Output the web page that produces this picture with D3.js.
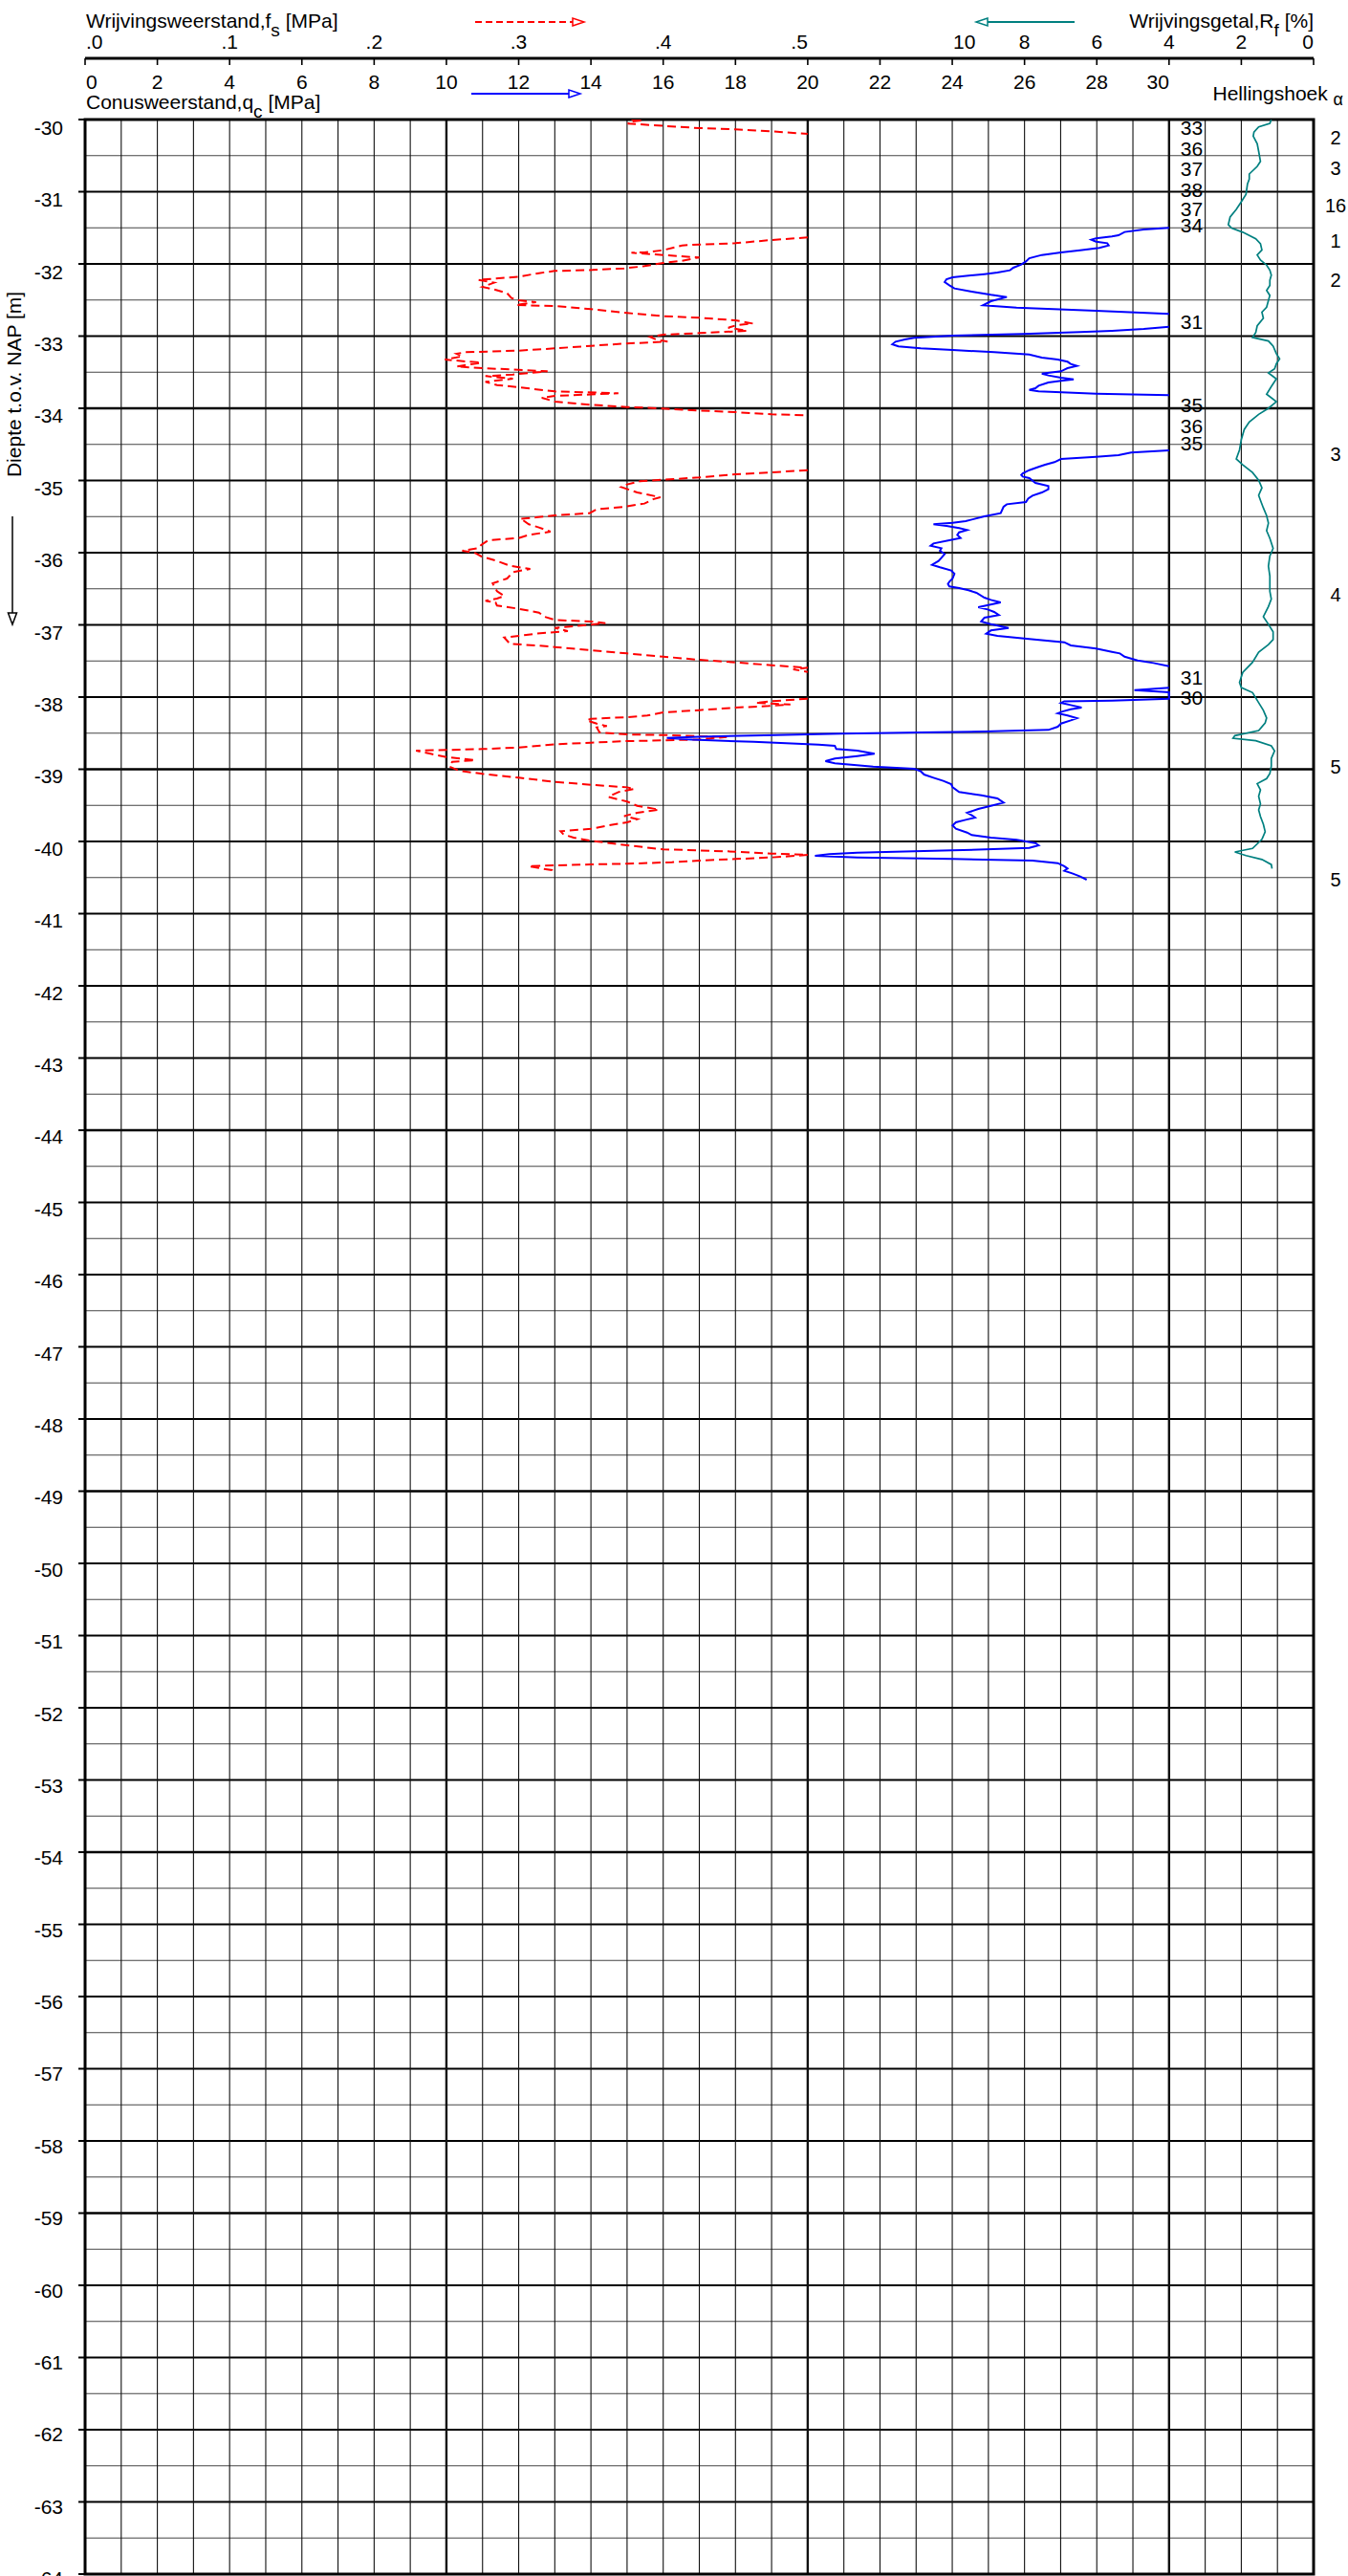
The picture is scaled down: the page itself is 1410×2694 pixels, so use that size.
<!DOCTYPE html>
<html><head><meta charset="utf-8">
<script src="https://cdn.jsdelivr.net/npm/d3@7"></script>
<style>
body{margin:0;background:#fff}
svg{display:block}
text{font-family:"Liberation Sans",Arial,Helvetica,sans-serif;fill:#000}
</style>
</head><body>
<svg id="chart" width="1410" height="2694"></svg>
<script>
// ---------------- DATA ----------------
const depthTicks = d3.range(-30, -64.5, -1);
const qcTicks = d3.range(0, 34.5, 2);
const qcTickLabels = d3.range(0, 30.5, 2);
const fsTickValues = [0, 0.1, 0.2, 0.3, 0.4, 0.5];
const fsTickLabels = [".0", ".1", ".2", ".3", ".4", ".5"];
const rfTickValues = [10, 8, 6, 4, 2, 0];

// Conusweerstand qc [MPa] : [depth m NAP, qc]  (values above 30 are off scale)
const qcProfile = [
[-30.0,33],[-30.11,33],[-30.397,36],[-30.684,37],[-30.971,38],[-31.236,37],[-31.457,34],[-31.501,30],
[-31.523,29.3],[-31.558,28.77],[-31.603,28.6],[-31.62,28.42],[-31.647,27.98],[-31.664,27.85],[-31.691,27.98],[-31.713,28.29],[-31.744,28.33],[-31.779,28.07],[-31.81,27.54],[-31.841,27.01],[-31.876,26.48],[-31.921,26.13],[-31.965,26.04],[-32.009,25.91],[-32.053,25.69],[-32.088,25.6],[-32.119,25.25],[-32.141,24.89],[-32.185,24.01],[-32.212,23.84],[-32.252,23.79],[-32.296,23.92],[-32.34,24.06],[-32.384,24.54],[-32.428,25.07],[-32.459,25.51],[-32.517,25.07],[-32.574,24.85],[-32.605,25.78],[-32.649,27.98],[-32.693,30],[-32.75,31],[-32.8,31],[-32.87,30],
[-32.9,29.3],[-32.927,28.42],[-32.945,27.54],[-32.971,25.95],[-32.993,24.01],[-33.024,22.95],[-33.046,22.69],[-33.077,22.43],[-33.113,22.34],[-33.143,22.51],[-33.17,23.13],[-33.192,24.01],[-33.223,25.16],[-33.254,26.13],[-33.298,26.48],[-33.325,26.92],[-33.355,27.19],[-33.386,27.28],[-33.413,27.45],[-33.444,27.19],[-33.466,27.1],[-33.488,27.01],[-33.519,26.48],[-33.545,26.66],[-33.576,27.01],[-33.598,27.36],[-33.62,27.01],[-33.642,26.66],[-33.687,26.39],[-33.722,26.3],[-33.744,26.13],[-33.766,26.39],[-33.797,27.98],[-33.819,30],[-33.951,35],[-34.238,36],[-34.481,35],[-34.583,30],
[-34.614,28.95],[-34.649,28.6],[-34.671,27.98],[-34.702,27.01],[-34.746,26.83],[-34.781,26.57],[-34.812,26.39],[-34.857,26.13],[-34.901,25.95],[-34.923,25.91],[-34.945,25.95],[-34.967,26.13],[-35.033,26.3],[-35.077,26.66],[-35.121,26.66],[-35.166,26.48],[-35.21,26.22],[-35.25,26.1],[-35.298,26.04],[-35.329,25.51],[-35.364,25.42],[-35.453,25.34],[-35.497,24.89],[-35.541,24.54],[-35.563,24.37],[-35.585,24.01],[-35.607,23.48],[-35.629,23.84],[-35.66,24.19],[-35.687,24.41],[-35.718,24.19],[-35.753,24.14],[-35.797,24.23],[-35.828,23.92],[-35.872,23.48],[-35.903,23.4],[-35.938,23.7],[-35.974,23.66],[-36.018,23.79],[-36.071,23.7],[-36.115,23.62],[-36.168,23.44],[-36.203,23.66],[-36.247,23.97],[-36.292,24.06],[-36.358,24.01],[-36.402,23.92],[-36.433,23.88],[-36.468,23.92],[-36.49,24.19],[-36.521,24.45],[-36.556,24.67],[-36.623,24.89],[-36.654,25.07],[-36.689,25.34],[-36.755,24.72],[-36.786,24.98],[-36.821,25.16],[-36.865,25.29],[-36.9,24.89],[-36.954,24.8],[-36.989,25.07],[-37.042,25.56],[-37.077,25.07],[-37.121,24.94],[-37.152,25.25],[-37.196,26.13],[-37.241,27.1],[-37.285,27.28],[-37.329,27.98],[-37.373,28.42],[-37.395,28.64],[-37.44,28.77],[-37.493,29.13],[-37.528,29.57],[-37.572,30],[-37.726,31],[-37.872,30],[-37.903,29.04],[-37.934,30],[-38.004,30],[-38.022,30],
[-38.049,28.42],[-38.058,27.1],[-38.08,27.01],[-38.111,27.28],[-38.146,27.58],[-38.168,27.28],[-38.2,27.05],[-38.225,26.92],[-38.256,27.19],[-38.292,27.45],[-38.323,27.28],[-38.367,27.01],[-38.411,26.92],[-38.455,26.66],[-38.477,24.89],[-38.49,23.13],[-38.508,20.93],[-38.53,18.8],[-38.55,17.0],[-38.566,16.1],[-38.59,16.8],[-38.62,18.5],[-38.645,19.7],[-38.66,20.3],[-38.676,20.75],[-38.72,20.79],[-38.742,21.37],[-38.786,21.85],[-38.817,21.37],[-38.852,20.75],[-38.888,20.49],[-38.918,20.75],[-38.963,21.81],[-38.994,22.95],[-39.029,23.13],[-39.073,23.22],[-39.117,23.48],[-39.161,23.75],[-39.206,23.97],[-39.25,24.01],[-39.316,24.19],[-39.36,24.81],[-39.404,25.25],[-39.462,25.42],[-39.506,25.07],[-39.55,24.72],[-39.603,24.41],[-39.638,24.54],[-39.669,24.63],[-39.7,24.37],[-39.735,24.1],[-39.779,24.01],[-39.824,24.1],[-39.877,24.41],[-39.912,24.54],[-39.947,25.07],[-39.978,25.78],[-40.022,26.3],[-40.053,26.39],[-40.088,26.13],[-40.124,24.01],[-40.155,21.37],[-40.177,20.6],[-40.199,20.2],[-40.221,21.37],[-40.243,24.01],[-40.265,26.22],[-40.3,26.92],[-40.344,27.1],[-40.375,27.19],[-40.406,27.1],[-40.442,27.32],[-40.486,27.54],[-40.53,27.72]
];

// Wrijvingsweerstand fs [MPa] : [depth, fs] (null = off scale, > .5)
const fsProfile = [
[-30.0,.378],[-30.012,.386],[-30.03,.376],[-30.057,.376],[-30.088,.400],[-30.119,.425],[-30.137,.450],[-30.163,.475],[-30.199,.500],[-30.2,null],
[-31.634,.500],[-31.669,.475],[-31.713,.450],[-31.731,.425],[-31.744,.413],[-31.81,.400],[-31.841,.387],[-31.845,.378],[-31.876,.400],[-31.912,.425],[-31.956,.413],[-31.987,.400],[-32.031,.387],[-32.062,.373],[-32.084,.351],[-32.097,.325],[-32.128,.314],[-32.177,.300],[-32.208,.281],[-32.221,.272],[-32.26,.283],[-32.318,.275],[-32.353,.283],[-32.406,.292],[-32.472,.295],[-32.503,.300],[-32.53,.312],[-32.57,.298],[-32.583,.325],[-32.627,.350],[-32.68,.375],[-32.724,.400],[-32.746,.425],[-32.781,.450],[-32.826,.462],[-32.848,.451],[-32.883,.445],[-32.927,.458],[-32.958,.425],[-32.98,.400],[-33.011,.391],[-33.046,.395],[-33.077,.403],[-33.104,.373],[-33.135,.350],[-33.17,.325],[-33.201,.300],[-33.223,.263],[-33.245,.257],[-33.28,.261],[-33.325,.249],[-33.369,.274],[-33.422,.257],[-33.444,.275],[-33.466,.300],[-33.488,.320],[-33.532,.296],[-33.554,.277],[-33.59,.296],[-33.634,.277],[-33.678,.285],[-33.709,.300],[-33.766,.325],[-33.792,.369],[-33.828,.325],[-33.854,.316],[-33.907,.325],[-33.951,.350],[-33.982,.375],[-34.004,.400],[-34.031,.425],[-34.053,.450],[-34.084,.475],[-34.097,.500],[-34.1,null],
[-34.857,.500],[-34.887,.475],[-34.914,.450],[-34.958,.425],[-34.989,.400],[-35.011,.384],[-35.055,.375],[-35.091,.371],[-35.166,.382],[-35.232,.398],[-35.26,.393],[-35.32,.387],[-35.364,.373],[-35.4,.354],[-35.453,.349],[-35.484,.325],[-35.51,.312],[-35.532,.301],[-35.55,.303],[-35.607,.307],[-35.651,.314],[-35.709,.322],[-35.753,.307],[-35.797,.300],[-35.828,.279],[-35.894,.274],[-35.938,.272],[-35.974,.261],[-36.005,.270],[-36.049,.274],[-36.115,.285],[-36.181,.294],[-36.225,.308],[-36.27,.296],[-36.358,.292],[-36.424,.282],[-36.534,.285],[-36.6,.290],[-36.636,.285],[-36.667,.277],[-36.689,.284],[-36.733,.285],[-36.777,.300],[-36.83,.314],[-36.888,.318],[-36.932,.325],[-36.954,.350],[-36.976,.360],[-37.02,.338],[-37.042,.325],[-37.086,.334],[-37.122,.312],[-37.152,.300],[-37.175,.290],[-37.219,.292],[-37.263,.294],[-37.285,.312],[-37.307,.325],[-37.351,.350],[-37.395,.375],[-37.44,.400],[-37.484,.425],[-37.519,.450],[-37.559,.475],[-37.594,.500],[-37.616,.490],[-37.651,.500],[-37.66,null],
[-38.022,.500],[-38.058,.475],[-38.08,.464],[-38.102,.488],[-38.124,.473],[-38.146,.450],[-38.181,.425],[-38.212,.400],[-38.256,.389],[-38.278,.375],[-38.3,.350],[-38.323,.347],[-38.367,.354],[-38.402,.361],[-38.42,.354],[-38.49,.356],[-38.517,.375],[-38.526,.400],[-38.543,.425],[-38.552,.444],[-38.587,.425],[-38.6,.400],[-38.61,.375],[-38.632,.350],[-38.654,.325],[-38.698,.300],[-38.72,.275],[-38.742,.229],[-38.786,.239],[-38.83,.250],[-38.874,.270],[-38.896,.254],[-38.963,.252],[-39.02,.259],[-39.064,.275],[-39.117,.300],[-39.175,.325],[-39.214,.350],[-39.25,.375],[-39.272,.380],[-39.316,.369],[-39.382,.362],[-39.448,.375],[-39.506,.382],[-39.559,.397],[-39.603,.382],[-39.647,.373],[-39.691,.382],[-39.735,.375],[-39.779,.362],[-39.824,.350],[-39.859,.329],[-39.903,.331],[-39.947,.338],[-39.991,.350],[-40.053,.375],[-40.11,.400],[-40.124,.425],[-40.141,.450],[-40.168,.475],[-40.186,.500],[-40.221,.475],[-40.243,.450],[-40.265,.425],[-40.287,.406],[-40.309,.375],[-40.318,.350],[-40.331,.325],[-40.344,.307],[-40.375,.316],[-40.397,.323],[-40.433,.323]
];

// Wrijvingsgetal Rf [%] : [depth, Rf]
const rfProfile = [
[-30.0,1.17],[-30.054,1.21],[-30.103,1.52],[-30.173,1.65],[-30.229,1.67],[-30.335,1.56],[-30.44,1.52],[-30.58,1.47],[-30.65,1.56],[-30.755,1.78],[-30.825,1.78],[-30.895,1.83],[-31.036,1.87],[-31.14,2.0],[-31.245,2.14],[-31.351,2.31],[-31.456,2.36],[-31.505,2.27],[-31.561,1.96],[-31.652,1.6],[-31.722,1.47],[-31.807,1.43],[-31.877,1.56],[-31.947,1.47],[-32.016,1.3],[-32.086,1.21],[-32.156,1.17],[-32.227,1.21],[-32.297,1.21],[-32.367,1.3],[-32.437,1.21],[-32.507,1.25],[-32.599,1.3],[-32.669,1.43],[-32.752,1.39],[-32.857,1.56],[-32.949,1.6],[-33.019,1.69],[-33.068,1.25],[-33.138,1.12],[-33.243,1.03],[-33.313,0.94],[-33.383,1.03],[-33.453,1.08],[-33.509,1.25],[-33.593,1.03],[-33.698,1.17],[-33.804,1.3],[-33.909,1.03],[-34.0,1.25],[-34.084,1.52],[-34.19,1.78],[-34.294,1.92],[-34.434,2.0],[-34.575,2.05],[-34.701,2.14],[-34.784,1.96],[-34.89,1.69],[-34.995,1.52],[-35.101,1.43],[-35.205,1.52],[-35.275,1.47],[-35.38,1.39],[-35.486,1.3],[-35.591,1.25],[-35.695,1.3],[-35.801,1.21],[-35.94,1.12],[-36.046,1.21],[-36.187,1.25],[-36.326,1.21],[-36.432,1.21],[-36.536,1.21],[-36.642,1.17],[-36.747,1.25],[-36.887,1.39],[-36.992,1.25],[-37.097,1.12],[-37.203,1.12],[-37.273,1.25],[-37.377,1.52],[-37.518,1.69],[-37.658,1.96],[-37.799,2.05],[-37.868,2.0],[-37.938,1.69],[-38.078,1.52],[-38.184,1.39],[-38.289,1.3],[-38.359,1.34],[-38.464,1.52],[-38.534,2.18],[-38.57,2.23],[-38.604,1.6],[-38.675,1.17],[-38.745,1.08],[-38.85,1.17],[-38.955,1.17],[-39.06,1.21],[-39.13,1.3],[-39.2,1.56],[-39.285,1.47],[-39.375,1.52],[-39.48,1.47],[-39.564,1.52],[-39.656,1.47],[-39.761,1.39],[-39.866,1.34],[-39.97,1.43],[-40.097,1.69],[-40.146,2.18],[-40.195,1.87],[-40.25,1.43],[-40.32,1.17],[-40.377,1.15]
];

// qc values beyond 30 MPa written next to the 30 line
const qcOverflowLabels = [
[-30.11,"33"],[-30.397,"36"],[-30.684,"37"],[-30.971,"38"],[-31.236,"37"],[-31.457,"34"],
[-32.80,"31"],[-33.951,"35"],[-34.238,"36"],[-34.481,"35"],[-37.726,"31"],[-38.004,"30"]
];

// Hellingshoek (inclination) readings
const inclinationLabels = [
[-30.243,"2"],[-30.676,"3"],[-31.19,"16"],[-31.68,"1"],[-32.22,"2"],[-34.636,"3"],[-36.58,"4"],[-38.963,"5"],[-40.53,"5"]
];

// ---------------- CHART ----------------
const svg = d3.select("#chart");
const X0 = 89, X1 = 1374, YT = 125, YB = 2692;
const qc = d3.scaleLinear().domain([0, 34]).range([X0, X1]);
const fs = d3.scaleLinear().domain([0, 0.5]).range([qc(0), qc(20)]);
const rf = d3.scaleLinear().domain([0, 10]).range([qc(34), qc(24)]);
const y = d3.scaleLinear().domain([-30, -64]).range([YT, YB]);
const yLab = d3.scaleLinear().domain([-30, -63]).range([133.5, 2621.5]);

svg.append("rect").attr("width", 1410).attr("height", 2694).attr("fill", "#fff");

// grid
const grid = svg.append("g");
const hLines = d3.range(1, 68).map(i => -30 - i * 0.5);
grid.selectAll("line.h").data(hLines).join("line")
  .attr("x1", X0).attr("x2", X1)
  .attr("y1", d => y(d)).attr("y2", d => y(d))
  .attr("stroke", d => Number.isInteger(d) ? "#000" : "#444")
  .attr("stroke-width", d => Number.isInteger(d) ? ((d + 34) % 5 === 0 ? 2.6 : 1.8) : 1.1);
const vLines = d3.range(1, 34);
grid.selectAll("line.v").data(vLines).join("line")
  .attr("y1", YT).attr("y2", YB)
  .attr("x1", d => qc(d)).attr("x2", d => qc(d))
  .attr("stroke", "#111")
  .attr("stroke-width", d => d % 10 === 0 ? 2.4 : 1.1);
svg.append("rect").attr("x", X0).attr("y", YT).attr("width", X1 - X0).attr("height", YB - YT)
  .attr("fill", "none").attr("stroke", "#000").attr("stroke-width", 3);

// depth axis
svg.selectAll("line.dt").data(depthTicks).join("line")
  .attr("x1", X0 - 7).attr("x2", X0).attr("y1", d => y(d)).attr("y2", d => y(d))
  .attr("stroke", "#000").attr("stroke-width", 2);
svg.selectAll("text.dl").data(depthTicks).join("text")
  .attr("x", 66).attr("y", d => yLab(d)).attr("dy", "0.35em")
  .attr("text-anchor", "end").attr("font-size", 21).text(d => d);

svg.append("text").attr("transform", "translate(22,402) rotate(-90)")
  .attr("text-anchor", "middle").attr("font-size", 21).text("Diepte t.o.v. NAP [m]");

function arrow(xa, ya, xb, yb, color, width, dash, head) {
  const g = svg.append("g");
  const ang = Math.atan2(yb - ya, xb - xa);
  const L = head[0], Hh = head[1];
  const bx = xb - L * Math.cos(ang), by = yb - L * Math.sin(ang);
  g.append("line").attr("x1", xa).attr("y1", ya).attr("x2", bx).attr("y2", by)
    .attr("stroke", color).attr("stroke-width", width).attr("stroke-dasharray", dash || null);
  const px = -Math.sin(ang) * Hh, py = Math.cos(ang) * Hh;
  g.append("path").attr("d", `M${bx + px},${by + py}L${xb},${yb}L${bx - px},${by - py}Z`)
    .attr("fill", "#fff").attr("stroke", color).attr("stroke-width", 1.5);
}
arrow(13, 540, 13, 653, "#000", 1.5, null, [12, 4.5]);

// top axis
svg.append("line").attr("x1", X0).attr("x2", X1).attr("y1", 61).attr("y2", 61)
  .attr("stroke", "#000").attr("stroke-width", 3);
svg.selectAll("line.qt").data(qcTicks).join("line")
  .attr("x1", d => qc(d)).attr("x2", d => qc(d)).attr("y1", 61).attr("y2", 68)
  .attr("stroke", "#000").attr("stroke-width", 1.6);

svg.selectAll("text.ql").data(qcTickLabels).join("text")
  .attr("x", (d, i) => i === 0 ? qc(d) + 1 : qc(d))
  .attr("y", 93).attr("font-size", 21)
  .attr("text-anchor", (d, i) => i === 0 ? "start" : (d === 30 ? "end" : "middle"))
  .text(d => d);

svg.selectAll("text.fl").data(fsTickValues).join("text")
  .attr("x", (d, i) => i === 0 ? fs(d) + 1 : fs(d))
  .attr("y", 51).attr("font-size", 21)
  .attr("text-anchor", (d, i) => i === 0 ? "start" : (i === fsTickValues.length - 1 ? "end" : "middle"))
  .text((d, i) => fsTickLabels[i]);

svg.selectAll("text.rl").data(rfTickValues).join("text")
  .attr("x", d => d === 10 ? rf(d) + 1 : rf(d))
  .attr("y", 51).attr("font-size", 21)
  .attr("text-anchor", d => d === 10 ? "start" : (d === 0 ? "end" : "middle"))
  .text(d => d);

function subTitle(x, yy, anchor, main, sub, tail) {
  const t = svg.append("text").attr("x", x).attr("y", yy).attr("font-size", 21).attr("text-anchor", anchor);
  t.append("tspan").text(main);
  t.append("tspan").attr("dy", 9).attr("font-size", 19).text(sub);
  t.append("tspan").attr("dy", -9).text(tail);
}
subTitle(90, 29, "start", "Wrijvingsweerstand,f", "s", " [MPa]");
subTitle(1374, 29, "end", "Wrijvingsgetal,R", "f", " [%]");
subTitle(90, 114, "start", "Conusweerstand,q", "c", " [MPa]");
const hl = svg.append("text").attr("x", 1405).attr("y", 105).attr("font-size", 21).attr("text-anchor", "end");
hl.append("tspan").text("Hellingshoek ");
hl.append("tspan").attr("dy", 5).attr("font-size", 18).text("α");

arrow(497, 23, 611, 23, "#ff0000", 2, "7,4", [12, 4]);
arrow(493, 98, 607, 98, "#0000ff", 2, null, [12, 4]);
arrow(1124, 23, 1021, 23, "#008080", 2.2, null, [12, 4]);

// data traces
svg.append("clipPath").attr("id", "plotClip").append("rect")
  .attr("x", X0).attr("y", YT).attr("width", X1 - X0).attr("height", YB - YT);
const traces = svg.append("g").attr("clip-path", "url(#plotClip)");

const fsLine = d3.line().defined(d => d[1] !== null).x(d => fs(d[1])).y(d => y(d[0]));
traces.append("path").datum(fsProfile).attr("d", fsLine)
  .attr("fill", "none").attr("stroke", "#ff0000").attr("stroke-width", 2).attr("stroke-dasharray", "9,5");

// qc beyond 30 MPa is not drawn (off scale) — it is written as a number instead
const qcLine = d3.line().defined(d => d[1] <= 30).x(d => qc(d[1])).y(d => y(d[0]));
traces.append("path").datum(qcProfile).attr("d", qcLine)
  .attr("fill", "none").attr("stroke", "#0000ff").attr("stroke-width", 2);

const rfLine = d3.line().x(d => rf(d[1])).y(d => y(d[0]));
traces.append("path").datum(rfProfile).attr("d", rfLine)
  .attr("fill", "none").attr("stroke", "#008080").attr("stroke-width", 1.7);

svg.selectAll("text.ov").data(qcOverflowLabels).join("text")
  .attr("x", qc(30) + 12).attr("y", d => y(d[0])).attr("dy", "0.36em")
  .attr("font-size", 21).text(d => d[1]);

svg.selectAll("text.inc").data(inclinationLabels).join("text")
  .attr("x", 1397).attr("y", d => y(d[0])).attr("dy", "0.36em")
  .attr("text-anchor", "middle").attr("font-size", 20).text(d => d[1]);
</script>
</body></html>
